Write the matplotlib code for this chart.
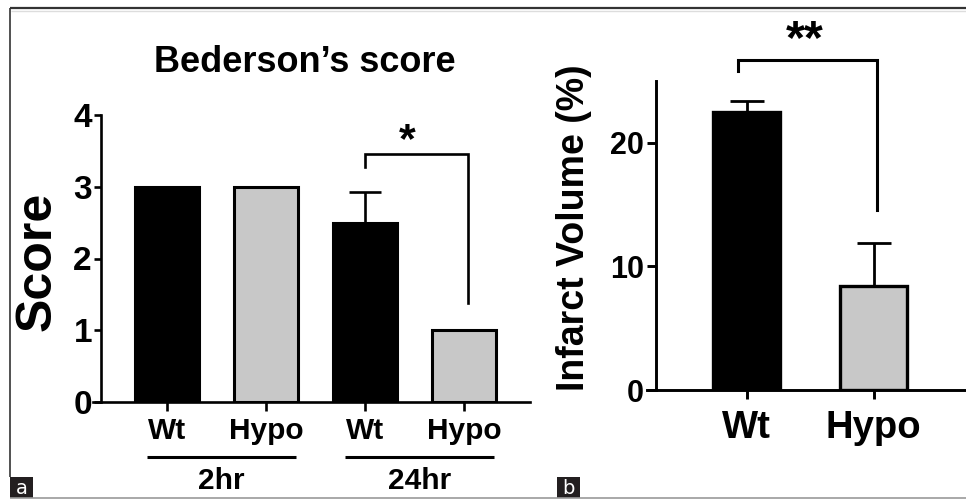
import numpy as np
import matplotlib
matplotlib.use("Agg")
import matplotlib.pyplot as plt
from matplotlib.lines import Line2D
from matplotlib.patches import Rectangle

plt.rcParams['font.family'] = ['Liberation Sans', 'DejaVu Sans']
plt.rcParams['font.weight'] = 'bold'

# panel a data
labels_a = ['Wt', 'Hypo', 'Wt', 'Hypo']
score = [3.0, 3.0, 2.5, 1.0]
score_err = [0.0, 0.0, 0.43, 0.0]
colors_a = ['black', '#c8c8c8', 'black', '#c8c8c8']
groups = ['2hr', '24hr']

# panel b data
labels_b = ['Wt', 'Hypo']
infarct = [22.5, 8.4]
infarct_err = [0.9, 3.5]
colors_b = ['black', '#c8c8c8']

W, H = 966, 500
fig = plt.figure(figsize=(W / 100, H / 100), dpi=100)


def px_axes(x0, x1, ytop, ybot):
    return fig.add_axes([x0 / W, 1 - ybot / H, (x1 - x0) / W, (ybot - ytop) / H])


def style(ax, lw=1.9):
    for s in ['top', 'right']:
        ax.spines[s].set_visible(False)
    for s in ['left', 'bottom']:
        ax.spines[s].set_linewidth(lw)
    ax.tick_params(axis='both', direction='out', width=lw, color='black')
    ax.patch.set_alpha(0)


# ---------------- panel a ----------------
axa = px_axes(93, 530, 115, 402)
xa = np.arange(len(score))
axa.bar(xa, score, width=0.65, color=colors_a, edgecolor='black', linewidth=2.2, zorder=2)
axa.errorbar(xa, score, yerr=[np.zeros(len(score)), score_err], fmt='none',
             ecolor='black', elinewidth=1.9, capsize=11.5, capthick=1.9, zorder=3)
axa.set_xlim(-0.747, 3.667)
axa.set_ylim(0, 4)
style(axa)
axa.spines['left'].set_position(('data', -0.667))
axa.set_yticks([0, 1, 2, 3, 4])
axa.tick_params(axis='y', length=5, labelsize=24, pad=1.5)
axa.set_xticks(xa)
axa.set_xticklabels(labels_a)
axa.tick_params(axis='x', length=6.5, labelsize=21.5, pad=4)
for t in axa.get_xticklabels() + axa.get_yticklabels():
    t.set_fontweight('bold')

# group underlines and labels
for g, name in enumerate(groups):
    i0, i1 = 2 * g, 2 * g + 1
    axa.plot([i0 - 0.2, i1 + 0.3], [-0.767, -0.767], color='black', lw=2.2,
             clip_on=False, solid_capstyle='butt')
    axa.text((i0 + i1) / 2 + 0.05, -1.1, name, ha='center', va='center',
             fontsize=21.5, fontweight='bold')

# significance bracket
axa.plot([2, 2, 3.04, 3.04], [3.27, 3.46, 3.46, 1.38], color='black', lw=1.9,
         clip_on=False, solid_joinstyle='miter')
axa.text(2.43, 3.48, '*', ha='center', va='baseline', fontsize=31, fontweight='bold')

fig.text(305 / W, 1 - 62 / H, 'Bederson\u2019s score', ha='center', va='center',
         fontsize=26, fontweight='bold')
fig.text(38 / W, 1 - 261 / H, 'Score', ha='center', va='center', rotation=90,
         fontsize=36, fontweight='bold')

# ---------------- panel b ----------------
axb = px_axes(647, 966, 81, 390)
xb = np.arange(len(infarct))
axb.bar(xb, infarct, width=0.53, color=colors_b, edgecolor='black', linewidth=2.4, zorder=2)
axb.errorbar(xb, infarct, yerr=[np.zeros(len(infarct)), infarct_err], fmt='none',
             ecolor='black', elinewidth=2.0, capsize=12.5, capthick=2.0, zorder=3)
axb.set_xlim(-0.785, 1.727)
axb.set_ylim(0, 25)
style(axb, lw=2.1)
axb.spines['left'].set_position(('data', -0.718))
axb.set_yticks([0, 10, 20])
axb.tick_params(axis='y', length=6.5, labelsize=22, pad=2)
axb.set_xticks(xb)
axb.set_xticklabels(labels_b)
axb.tick_params(axis='x', length=6.5, labelsize=27.5, pad=8)
for t in axb.get_xticklabels() + axb.get_yticklabels():
    t.set_fontweight('bold')

axb.plot([-0.07, -0.07, 1.03, 1.03], [25.8, 26.7, 26.7, 14.6], color='black', lw=2.2,
         clip_on=False, solid_joinstyle='miter')
axb.text(0.46, 27.3, '**', ha='center', va='baseline', fontsize=35, fontweight='bold')

fig.text(574 / W, 1 - 228 / H, 'Infarct Volume (%)', ha='center', va='center',
         rotation=90, fontsize=27, fontweight='bold')

# ---------------- frame and panel tags ----------------
def fline(x0, y0, x1, y1, color, lw):
    fig.add_artist(Line2D([x0 / W, x1 / W], [1 - y0 / H, 1 - y1 / H], color=color, lw=lw,
                          solid_capstyle='butt'))

fline(10, 8, 966, 8, '#333333', 1.6)
fline(11, 10.5, 966, 10.5, '#dddddd', 1.0)
fline(10, 8, 10, 477, '#333333', 1.2)
fline(10, 498, 966, 498, '#9a9a9a', 1.2)

for x0, tag in [(10, 'a'), (557, 'b')]:
    fig.add_artist(Rectangle((x0 / W, 1 - 498 / H), 23 / W, 21 / H, transform=fig.transFigure,
                             facecolor='#231f20', edgecolor='none'))
    fig.text((x0 + 11.5) / W, 1 - 488 / H, tag, ha='center', va='center', color='white',
             fontsize=14, fontweight='normal', family=['DejaVu Sans'])

fig.savefig('out.png', dpi=100)
